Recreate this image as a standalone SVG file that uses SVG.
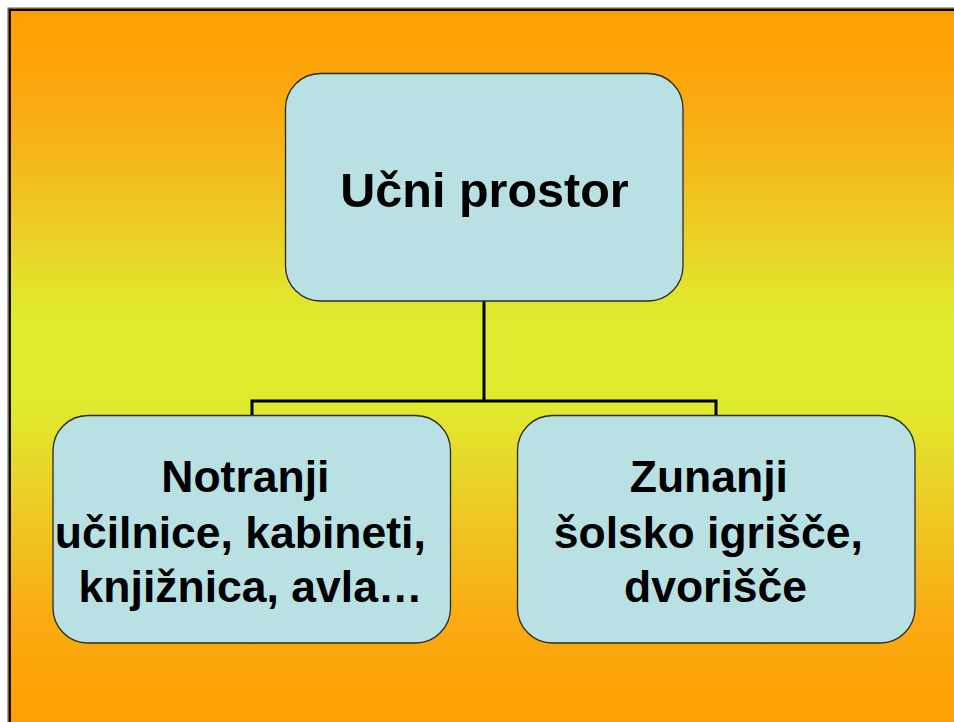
<svg xmlns="http://www.w3.org/2000/svg" width="954" height="722" viewBox="0 0 954 722">
  <defs>
    <linearGradient id="bg" x1="0" y1="9" x2="0" y2="722" gradientUnits="userSpaceOnUse">
      <stop offset="0" stop-color="#FF9E00"/>
      <stop offset="0.14" stop-color="#FAAA12"/>
      <stop offset="0.3" stop-color="#EDCB24"/>
      <stop offset="0.43" stop-color="#DFEB2F"/>
      <stop offset="0.55" stop-color="#DFEB2F"/>
      <stop offset="0.7" stop-color="#EDCB24"/>
      <stop offset="0.86" stop-color="#FAAA12"/>
      <stop offset="1" stop-color="#FF9E00"/>
    </linearGradient>
    <style>
      .node rect { fill: #B9E0E3; stroke: #2b2b2b; stroke-width: 1.3; }
      .node text { font-family: "Liberation Sans", Arial, sans-serif; font-weight: bold; fill: #000; text-anchor: middle; }
      .conn { fill: none; stroke: #000; stroke-width: 3; }
    </style>
  </defs>
  <rect x="0" y="0" width="954" height="722" fill="#FFFFFF"/>
  <rect x="8" y="8" width="960" height="730" fill="url(#bg)" stroke="#6b5428" stroke-width="1"/>
  <path d="M9.8 740 V9.8 H960" fill="none" stroke="#000" stroke-width="2.2"/>

  <g id="connectors">
    <path class="conn" d="M484 301 V401"/>
    <path class="conn" d="M252 415 V401 H716 V415"/>
  </g>

  <g id="node-ucni-prostor" class="node">
    <rect x="285.5" y="73.5" width="397.5" height="227.5" rx="35" ry="35"/>
    <text x="484.5" y="207" font-size="48.5">Učni prostor</text>
  </g>

  <g id="node-notranji" class="node">
    <rect x="53" y="415.5" width="397.5" height="227.5" rx="35" ry="35"/>
    <text font-size="44.5">
      <tspan x="251.5" y="492">Notranji</tspan>
      <tspan x="246.5" y="548">učilnice, kabineti,</tspan>
      <tspan x="250.5" y="602">knjižnica, avla…</tspan>
    </text>
  </g>

  <g id="node-zunanji" class="node">
    <rect x="517.5" y="415.5" width="397.5" height="227.5" rx="35" ry="35"/>
    <text font-size="44.5">
      <tspan x="715" y="492">Zunanji</tspan>
      <tspan x="714.5" y="548">šolsko igrišče,</tspan>
      <tspan x="715.5" y="602">dvorišče</tspan>
    </text>
  </g>
</svg>
